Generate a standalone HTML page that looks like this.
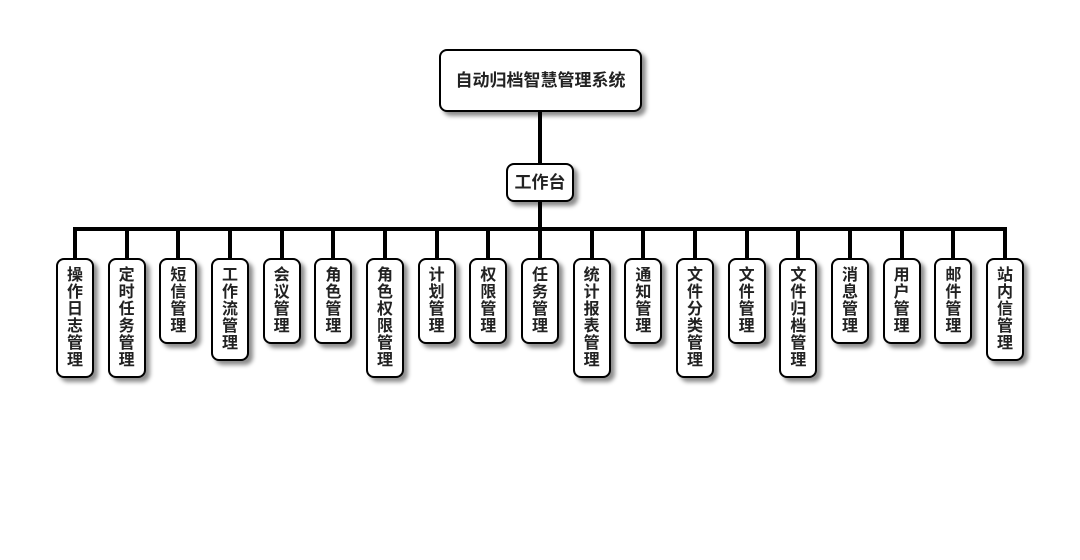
<!DOCTYPE html>
<html><head><meta charset="utf-8"><style>
body{margin:0;width:1080px;height:560px;background:#fff;position:relative;overflow:hidden;font-family:"Liberation Sans","Noto Sans CJK SC",sans-serif;font-weight:bold;color:#222}
.b{position:absolute;box-sizing:border-box;border:2px solid #000;border-radius:8px;background:#fff;box-shadow:4px 4px 4px rgba(0,0,0,.45);text-align:center}
.l{position:absolute;background:#000}
.c{width:38px;top:258px;font-size:16px;line-height:17px;padding-top:7px}
</style></head><body>
<div class="l" style="left:538px;top:111px;width:4px;height:53px"></div>
<div class="l" style="left:538px;top:202px;width:4px;height:28px"></div>
<div class="l" style="left:73px;top:227px;width:934px;height:4px"></div>
<div class="b" style="left:439px;top:49px;width:203px;height:63px;font-size:17px;line-height:59px">自动归档智慧管理系统</div>
<div class="b" style="left:506px;top:163px;width:68px;height:39px;font-size:17px;line-height:35px">工作台</div>
<div id="k"></div>
<script>
var n=["操作日志管理","定时任务管理","短信管理","工作流管理","会议管理","角色管理","角色权限管理","计划管理","权限管理","任务管理","统计报表管理","通知管理","文件分类管理","文件管理","文件归档管理","消息管理","用户管理","邮件管理","站内信管理"];
var h="";
n.forEach(function(t,i){var cx=75+i*(930/18);
h+='<div class="l" style="left:'+(cx-2)+'px;top:229px;width:4px;height:30px"></div>';
h+='<div class="b c" style="left:'+(cx-19)+'px;height:'+(t.length*17+18)+'px">'+t.split('').join('<br>')+'</div>';});
document.getElementById('k').innerHTML=h;
</script>
</body></html>
